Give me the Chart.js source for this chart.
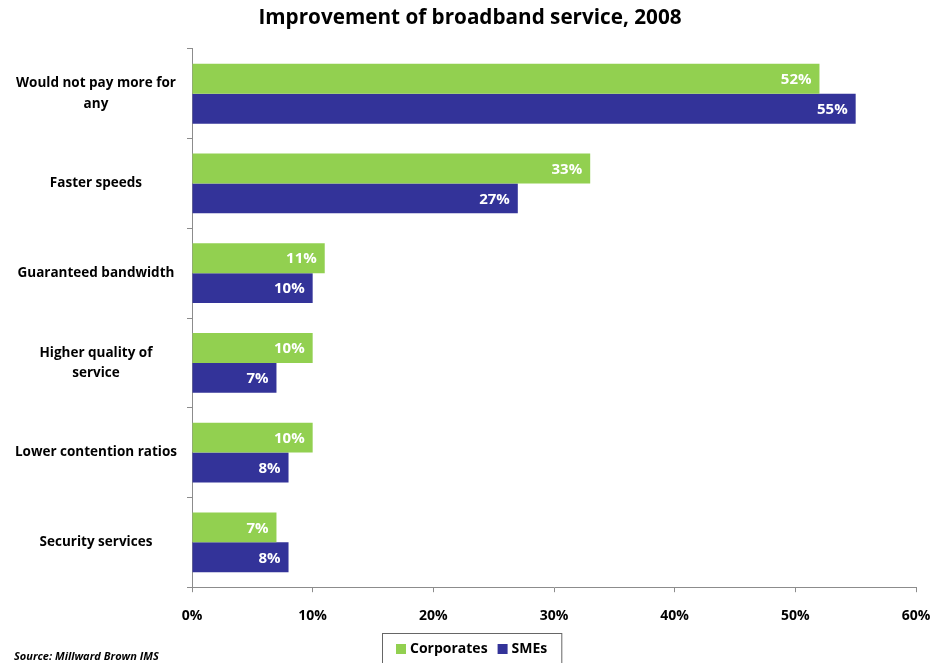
<!DOCTYPE html>
<html>
<head>
<meta charset="utf-8">
<script src="https://cdn.jsdelivr.net/npm/chart.js@4.4.1/dist/chart.umd.min.js"></script>
<style>
  html, body { margin: 0; padding: 0; background: #fff; }
  #wrap { width: 934px; height: 663px; position: relative; }
</style>
</head>
<body>
<div id="wrap"><canvas id="myChart"></canvas></div>
<script>
const categories = [
  ["Would not pay more for", "any"],
  "Faster speeds",
  "Guaranteed bandwidth",
  ["Higher quality of", "service"],
  "Lower contention ratios",
  "Security services",
];
const corporates = [52, 33, 11, 10, 10, 7];
const smes = [55, 27, 10, 7, 8, 8];
const xTicks = [0, 10, 20, 30, 40, 50, 60];

const FONT = "'Open Sans', sans-serif";
const GREEN = "#92D050";
const BLUE = "#333399";
const AXIS = "#8c8c8c";

// white value text at the end of each bar
const barValues = {
  id: "barValues",
  afterDatasetsDraw(chart) {
    const ctx = chart.ctx;
    ctx.save();
    ctx.font = "bold 15px " + FONT;
    ctx.fillStyle = "#fff";
    ctx.textAlign = "right";
    ctx.textBaseline = "middle";
    chart.data.datasets.forEach((ds, i) => {
      chart.getDatasetMeta(i).data.forEach((bar, j) => {
        ctx.fillText(ds.data[j] + "%", bar.x - 8, bar.y + 1);
      });
    });
    ctx.restore();
  },
};

// boxed legend and source line along the bottom edge
const footer = {
  id: "footer",
  afterDraw(chart) {
    const ctx = chart.ctx;
    ctx.save();
    ctx.font = "bold 14px " + FONT;
    const items = chart.data.datasets.map((ds) => ({
      text: ds.label,
      color: ds.backgroundColor,
      w: ctx.measureText(ds.label).width,
    }));
    const sq = 10, gap = 4, between = 10, pad = 14;
    let total = pad * 2;
    items.forEach((it, i) => { total += sq + gap + it.w + (i ? between : 0); });
    const left = Math.round(472 - total / 2);
    const top = 633;
    ctx.strokeStyle = "#666";
    ctx.lineWidth = 1;
    ctx.strokeRect(left + 0.5, top + 0.5, total, 40);
    let x = left + pad;
    ctx.textBaseline = "middle";
    ctx.textAlign = "left";
    items.forEach((it, i) => {
      if (i) x += between;
      ctx.fillStyle = it.color;
      ctx.fillRect(x, 644, sq, sq);
      x += sq + gap;
      ctx.fillStyle = "#000";
      ctx.fillText(it.text, x, 649);
      x += it.w;
    });

    ctx.font = "italic bold 11px " + FONT;
    ctx.fillStyle = "#000";
    ctx.fillText("Source: Millward Brown IMS", 14, 657);
    ctx.restore();
  },
};

const ctx = document.getElementById("myChart").getContext("2d");
const myChart = new Chart(ctx, {
  type: "bar",
  data: {
    labels: categories,
    datasets: [
      {
        label: "Corporates",
        data: corporates,
        backgroundColor: GREEN,
        categoryPercentage: 0.667,
        barPercentage: 1.0,
      },
      {
        label: "SMEs",
        data: smes,
        backgroundColor: BLUE,
        categoryPercentage: 0.667,
        barPercentage: 1.0,
      },
    ],
  },
  options: {
    indexAxis: "y",
    responsive: true,
    maintainAspectRatio: false,
    animation: false,
    layout: { padding: { top: 6, right: 8, bottom: 24, left: 14 } },
    plugins: {
      legend: { display: false },
      tooltip: { enabled: false },
      title: {
        display: true,
        text: "Improvement of broadband service, 2008",
        color: "#000",
        font: { family: FONT, size: 20.7, weight: "bold", lineHeight: 1.2 },
        padding: { top: 0, bottom: 18 },
      },
    },
    scales: {
      x: {
        min: 0,
        max: 60,
        afterBuildTicks(axis) {
          axis.ticks = xTicks.map((v) => ({ value: v }));
        },
        afterFit(axis) { axis.paddingRight = 18; },
        border: { color: AXIS },
        grid: { drawOnChartArea: false, tickLength: 5, color: AXIS },
        ticks: {
          padding: 15,
          color: "#000",
          font: { family: FONT, size: 14, weight: "bold" },
          callback: (v) => v + "%",
          maxRotation: 0,
        },
      },
      y: {
        afterFit(axis) { axis.width = 178; },
        border: { color: AXIS },
        grid: { drawOnChartArea: false, tickLength: 5, color: AXIS, offset: true },
        ticks: {
          crossAlign: "center",
          padding: 10,
          color: "#000",
          font: { family: FONT, size: 13.5, weight: "bold", lineHeight: 1.5 },
        },
      },
    },
  },
  plugins: [barValues, footer],
});
</script>
</body>
</html>
